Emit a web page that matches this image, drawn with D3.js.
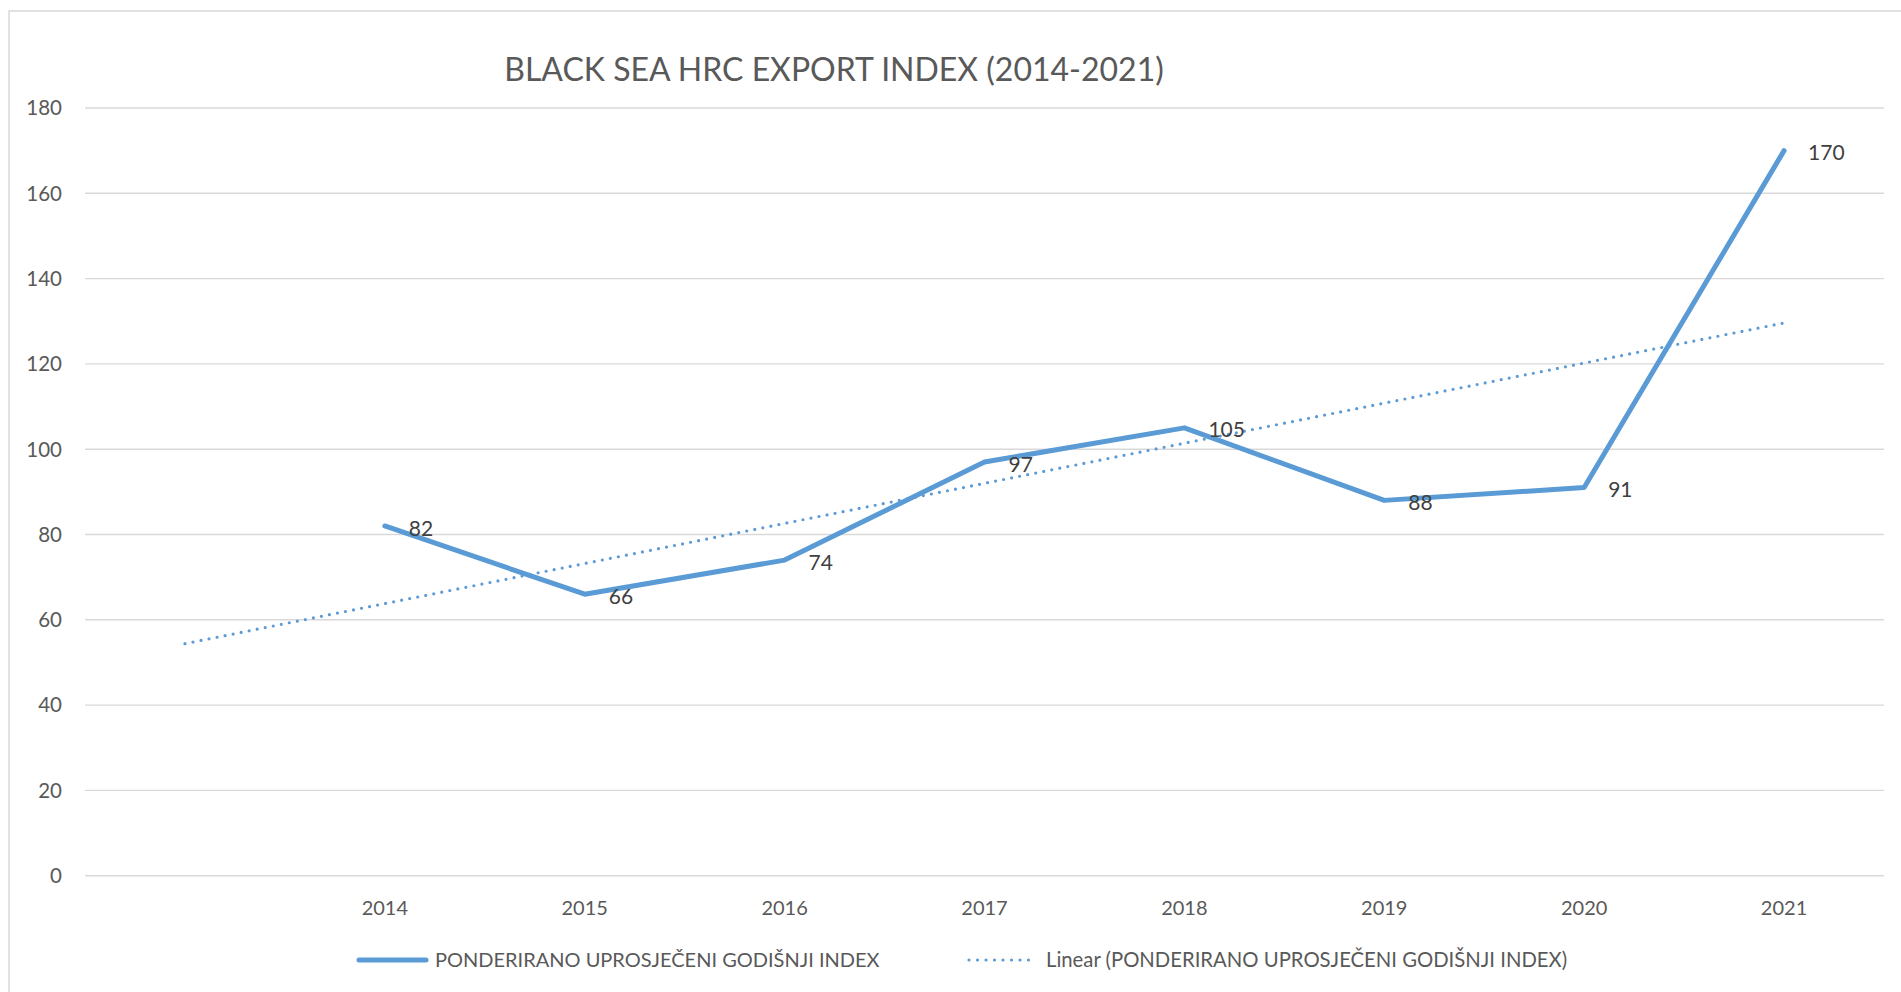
<!DOCTYPE html>
<html>
<head>
<meta charset="utf-8">
<script src="https://cdn.jsdelivr.net/npm/d3@7"></script>
<style>
  html, body { margin: 0; padding: 0; background: #fff; }
  svg { display: block; font-family: Lato, "Open Sans", sans-serif; }
</style>
</head>
<body>
<svg id="chart"></svg>
<script>
// first slot is empty: Excel adds it for the trendline's backward forecast
const categories = ["", "2014", "2015", "2016", "2017", "2018", "2019", "2020", "2021"];
const years = ["2014", "2015", "2016", "2017", "2018", "2019", "2020", "2021"];
const values = [82, 66, 74, 97, 105, 88, 91, 170];

// linear trendline, endpoints
const trendCats = ["", "2021"];
const trendValues = [54.4, 129.6];

const yTicks = [0, 20, 40, 60, 80, 100, 120, 140, 160, 180];

const titleText = "BLACK SEA HRC EXPORT INDEX (2014-2021)";
const seriesName = "PONDERIRANO UPROSJEČENI GODIŠNJI INDEX";
const trendName = "Linear (PONDERIRANO UPROSJEČENI GODIŠNJI INDEX)";

const width = 1901;
const height = 992;
const blue = "#5B9BD5";
const gridColor = "#D9D9D9";
const axisText = "#595959";

const svg = d3.select("#chart")
  .attr("width", width)
  .attr("height", height);

// chart area border
svg.append("rect")
  .attr("x", 9)
  .attr("y", 11)
  .attr("width", width + 10)
  .attr("height", height + 10)
  .attr("fill", "#fff")
  .attr("stroke", gridColor)
  .attr("stroke-width", 1.5);

const x = d3.scaleBand()
  .domain(categories)
  .range([85, 1884]);

const cx = (c) => x(c) + x.bandwidth() / 2;

const y = d3.scaleLinear()
  .domain([0, 180])
  .range([875.7, 108]);

// gridlines
svg.append("g")
  .selectAll("line")
  .data(yTicks)
  .join("line")
  .attr("x1", 85)
  .attr("x2", 1884)
  .attr("y1", (d) => y(d))
  .attr("y2", (d) => y(d))
  .attr("stroke", gridColor)
  .attr("stroke-width", 1.4);

// y labels
svg.append("g")
  .selectAll("text")
  .data(yTicks)
  .join("text")
  .attr("x", 62)
  .attr("y", (d) => y(d))
  .attr("dy", "0.36em")
  .attr("text-anchor", "end")
  .attr("font-size", 20.5)
  .attr("fill", axisText)
  .text((d) => d);

// x labels
svg.append("g")
  .selectAll("text")
  .data(years)
  .join("text")
  .attr("x", (d) => cx(d))
  .attr("y", 907.5)
  .attr("dy", "0.36em")
  .attr("text-anchor", "middle")
  .attr("font-size", 20)
  .attr("fill", axisText)
  .text((d) => d);

// title
svg.append("text")
  .attr("x", 834)
  .attr("y", 81)
  .attr("text-anchor", "middle")
  .attr("font-size", 32)
  .attr("fill", axisText)
  .text(titleText);

// trendline
const trendLine = d3.line()
  .x((d, i) => cx(trendCats[i]))
  .y((d) => y(d));

const trendPath = svg.append("path")
  .datum(trendValues)
  .attr("d", trendLine)
  .attr("fill", "none")
  .attr("stroke", blue)
  .attr("stroke-width", 3.2)
  .attr("stroke-linecap", "round");

// fit dot spacing so a dot lands on both ends
const trendLen = trendPath.node().getTotalLength();
const gap = trendLen / Math.round(trendLen / 8.2) - 0.01;
trendPath.attr("stroke-dasharray", `0,${gap}`);

// main series
const line = d3.line()
  .x((d, i) => cx(years[i]))
  .y((d) => y(d));

svg.append("path")
  .datum(values)
  .attr("d", line)
  .attr("fill", "none")
  .attr("stroke", blue)
  .attr("stroke-width", 5)
  .attr("stroke-linecap", "round")
  .attr("stroke-linejoin", "round");

// data labels, right of each point
svg.append("g")
  .selectAll("text")
  .data(values)
  .join("text")
  .attr("x", (d, i) => cx(years[i]) + 24)
  .attr("y", (d) => y(d) + 2)
  .attr("dy", "0.36em")
  .attr("font-size", 21)
  .attr("fill", "#404040")
  .text((d) => d);

// legend
const legend = svg.append("g");
const legendY = 960;

legend.append("line")
  .attr("x1", 359)
  .attr("x2", 426)
  .attr("y1", legendY)
  .attr("y2", legendY)
  .attr("stroke", blue)
  .attr("stroke-width", 5)
  .attr("stroke-linecap", "round");

legend.append("text")
  .attr("x", 435)
  .attr("y", legendY)
  .attr("dy", "0.36em")
  .attr("font-size", 20)
  .attr("fill", axisText)
  .text(seriesName);

legend.append("line")
  .attr("x1", 969)
  .attr("x2", 1037)
  .attr("y1", legendY)
  .attr("y2", legendY)
  .attr("stroke", blue)
  .attr("stroke-width", 3.2)
  .attr("stroke-linecap", "round")
  .attr("stroke-dasharray", "0,8.5");

legend.append("text")
  .attr("x", 1046)
  .attr("y", legendY)
  .attr("dy", "0.36em")
  .attr("font-size", 20.3)
  .attr("fill", axisText)
  .text(trendName);
</script>
</body>
</html>
